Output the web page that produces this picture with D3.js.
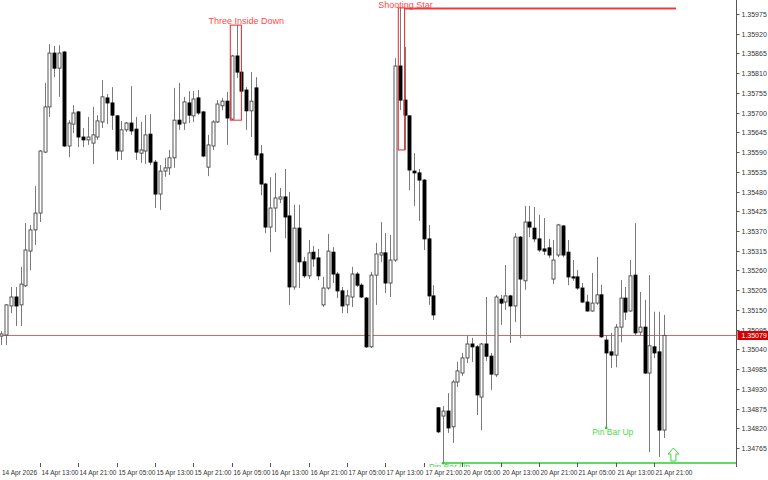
<!DOCTYPE html>
<html><head><meta charset="utf-8">
<script src="https://cdn.jsdelivr.net/npm/d3@7"></script>
<style>html,body{margin:0;padding:0;background:#fff;}svg{display:block;}</style>
</head><body>
<svg id="c" width="768" height="480"></svg>
<script>
// ---- data (H1 bars, 14 Apr 05:00 .. 21 Apr 23:00) ----
const opens = [1.35077,1.35080,1.35161,1.35186,1.35164,1.35217,1.35314,1.35373,1.35420,1.35590,
1.35716,1.35866,1.35824,1.35869,1.35607,1.35668,1.35702,1.35632,1.35624,1.35615,
1.35632,1.35674,1.35741,1.35727,1.35691,1.35593,1.35652,1.35671,1.35654,1.35587,
1.35593,1.35640,1.35562,1.35473,1.35537,1.35546,1.35574,1.35679,1.35671,1.35727,
1.35691,1.35741,1.35702,1.35548,1.35607,1.35674,1.35719,1.35732,1.35682,1.35858,
1.35813,1.35763,1.35705,1.35769,1.35585,1.35501,1.35381,1.35434,1.35459,1.35465,
1.35412,1.35214,1.35378,1.35284,1.35245,1.35311,1.35295,1.35164,1.35211,1.35311,
1.35250,1.35203,1.35164,1.35186,1.35250,1.35219,1.35183,1.35047,1.35247,1.35303,
1.35309,1.35225,1.35289,1.35830,1.35735,1.35691,1.35537,1.35532,1.35512,1.35348,
1.35189,1.34877,1.34854,1.34868,1.34824,1.34949,1.34974,1.35016,1.35055,1.35047,
1.34907,1.35055,1.35021,1.34969,1.35180,1.35172,1.35189,1.35161,1.35353,1.35231,
1.35395,1.35378,1.35348,1.35320,1.35323,1.35236,1.35303,1.35384,1.35311,1.35242,
1.35242,1.35211,1.35172,1.35147,1.35169,1.35192,1.35066,1.35033,1.35024,1.35102,
1.35183,1.35147,1.35247,1.35088,1.35102,1.34974,1.35047,1.35033,1.34815];
const highs = [1.35091,1.35166,1.35214,1.35214,1.35270,1.35392,1.35387,1.35495,1.35596,1.35783,
1.35891,1.35886,1.35888,1.35872,1.35679,1.35721,1.35705,1.35657,1.35688,1.35716,
1.35693,1.35791,1.35752,1.35771,1.35693,1.35677,1.35674,1.35774,1.35688,1.35674,
1.35693,1.35696,1.35568,1.35554,1.35574,1.35596,1.35769,1.35783,1.35744,1.35760,
1.35760,1.35763,1.35705,1.35638,1.35679,1.35735,1.35741,1.35758,1.35861,1.35944,
1.35819,1.35771,1.35813,1.35799,1.35610,1.35504,1.35520,1.35532,1.35490,1.35543,
1.35479,1.35443,1.35443,1.35298,1.35345,1.35328,1.35320,1.35242,1.35362,1.35325,
1.35256,1.35214,1.35206,1.35270,1.35256,1.35225,1.35186,1.35256,1.35337,1.35395,
1.35364,1.35359,1.35852,1.35992,1.35883,1.35693,1.35587,1.35543,1.35515,1.35387,
1.35219,1.34879,1.34882,1.34918,1.34955,1.35005,1.35030,1.35080,1.35072,1.35052,
1.35058,1.35186,1.35030,1.35192,1.35192,1.35275,1.35192,1.35364,1.35356,1.35440,
1.35440,1.35437,1.35415,1.35406,1.35348,1.35345,1.35390,1.35387,1.35345,1.35289,
1.35261,1.35225,1.35192,1.35253,1.35298,1.35220,1.35080,1.35086,1.35111,1.35233,
1.35214,1.35289,1.35392,1.35200,1.35178,1.35247,1.35145,1.35145,1.35136];
const lows = [1.35052,1.35052,1.35141,1.35105,1.35105,1.35214,1.35261,1.35331,1.35395,1.35587,
1.35688,1.35799,1.35744,1.35604,1.35576,1.35643,1.35604,1.35604,1.35610,1.35557,
1.35624,1.35657,1.35668,1.35652,1.35568,1.35568,1.35646,1.35638,1.35568,1.35560,
1.35557,1.35554,1.35434,1.35429,1.35521,1.35526,1.35546,1.35652,1.35652,1.35671,
1.35674,1.35693,1.35576,1.35523,1.35596,1.35671,1.35707,1.35610,1.35679,1.35797,
1.35755,1.35652,1.35632,1.35568,1.35470,1.35364,1.35311,1.35367,1.35448,1.35350,
1.35164,1.35206,1.35211,1.35239,1.35236,1.35270,1.35233,1.35158,1.35206,1.35225,
1.35183,1.35141,1.35141,1.35158,1.35214,1.35183,1.35044,1.35044,1.35164,1.35284,
1.35197,1.35186,1.35284,1.35707,1.35596,1.35484,1.35440,1.35398,1.35317,1.35164,
1.35122,1.34807,1.34723,1.34807,1.34779,1.34935,1.34966,1.35002,1.35005,1.34857,
1.34815,1.35008,1.34927,1.34963,1.35108,1.35150,1.35058,1.35116,1.35072,1.35206,
1.35353,1.35339,1.35311,1.35303,1.35295,1.35222,1.35297,1.35297,1.35219,1.35231,
1.35206,1.35169,1.35145,1.35145,1.35164,1.35072,1.34821,1.34988,1.34990,1.35060,
1.35122,1.35144,1.35080,1.35080,1.34971,1.34754,1.35016,1.34740,1.34793];
const closes = [1.35083,1.35164,1.35186,1.35161,1.35222,1.35317,1.35373,1.35420,1.35593,1.35716,
1.35866,1.35824,1.35866,1.35607,1.35671,1.35699,1.35632,1.35624,1.35632,1.35638,
1.35677,1.35744,1.35727,1.35693,1.35593,1.35652,1.35671,1.35649,1.35590,1.35596,
1.35638,1.35562,1.35473,1.35537,1.35546,1.35574,1.35679,1.35668,1.35730,1.35693,
1.35738,1.35699,1.35579,1.35610,1.35674,1.35724,1.35732,1.35685,1.35858,1.35813,
1.35760,1.35705,1.35732,1.35582,1.35501,1.35381,1.35434,1.35462,1.35465,1.35409,
1.35214,1.35378,1.35284,1.35245,1.35309,1.35292,1.35245,1.35211,1.35314,1.35250,
1.35203,1.35161,1.35189,1.35250,1.35219,1.35186,1.35047,1.35247,1.35306,1.35309,
1.35225,1.35289,1.35830,1.35735,1.35693,1.35540,1.35532,1.35512,1.35348,1.35189,
1.35136,1.34810,1.34868,1.34821,1.34949,1.34980,1.35016,1.35055,1.35047,1.34913,
1.35055,1.35021,1.34971,1.35186,1.35169,1.35189,1.35161,1.35353,1.35236,1.35395,
1.35381,1.35348,1.35317,1.35314,1.35303,1.35289,1.35387,1.35303,1.35242,1.35239,
1.35211,1.35172,1.35147,1.35169,1.35192,1.35075,1.35030,1.35024,1.35102,1.35183,
1.35144,1.35245,1.35086,1.35102,1.34974,1.35050,1.35030,1.34815,1.35079];

const timeLabels = ["14 Apr 2026","14 Apr 13:00","14 Apr 21:00","15 Apr 05:00","15 Apr 13:00","15 Apr 21:00",
"16 Apr 05:00","16 Apr 13:00","16 Apr 21:00","17 Apr 05:00","17 Apr 13:00","17 Apr 21:00",
"20 Apr 05:00","20 Apr 13:00","20 Apr 21:00","21 Apr 05:00","21 Apr 13:00","21 Apr 21:00"];
const timeLabelBars = [0,8,16,24,32,40,48,56,64,72,80,88,96,104,112,120,128,136];
const priceTicks = [1.34765,1.34820,1.34875,1.34930,1.34985,1.35040,1.35095,1.35150,1.35205,1.35260,
1.35315,1.35370,1.35425,1.35480,1.35535,1.35590,1.35645,1.35700,1.35755,1.35810,1.35865,1.35920,1.35975];
const currentPrice = 1.35079;

// patterns (bar indices / prices)
const threeInsideDown = {label:"Three Inside Down", from:48, to:50, hi:1.35944, lo:1.35679};
const shootingStar = {label:"Shooting Star", from:83, to:84, hi:1.35992, lo:1.35596};
const supportLevel = {from:92, price:1.34723};
const pinBars = [{label:"Pin Bar Up", bar:92, price:1.34723},{label:"Pin Bar Up", bar:126, price:1.34821}];
const arrowUp = {bar:140, price:1.34723};

// ---- drawing ----
const svg = d3.select("#c");
const N = opens.length;
const x = d3.scaleLinear().domain([0, 138]).range([1.4, 663.8]);
const y = d3.scaleLinear().domain([1.34765, 1.35975]).range([448, 14]);
const axisX = 736.5;
const FONT = "'Liberation Sans', Arial, sans-serif";

svg.append("defs").append("clipPath").attr("id","plot").append("rect").attr("x",0).attr("y",0).attr("width",axisX).attr("height",467);
const plot = svg.append("g").attr("clip-path","url(#plot)");

const bars = d3.range(N).map(i => ({i, o:opens[i], h:highs[i], l:lows[i], c:closes[i]}));

// current price line
plot.append("line").attr("x1",0).attr("x2",axisX).attr("y1",Math.round(y(currentPrice))+0.5).attr("y2",Math.round(y(currentPrice))+0.5)
  .attr("stroke","#e06666").attr("stroke-width",1);

const g = plot.append("g");
// wicks
g.selectAll("line.w").data(bars).join("line").attr("class","w")
  .attr("x1",d=>Math.round(x(d.i))+0.5).attr("x2",d=>Math.round(x(d.i))+0.5)
  .attr("y1",d=>y(d.h)).attr("y2",d=>y(d.l))
  .attr("stroke","#7a7a7a").attr("stroke-width",1);
// bodies
g.selectAll("rect.b").data(bars).join("rect").attr("class","b")
  .attr("x",d=>Math.round(x(d.i))-1)
  .attr("width",3)
  .attr("y",d=>y(Math.max(d.o,d.c)))
  .attr("height",d=>Math.max(1, Math.abs(y(d.o)-y(d.c))))
  .attr("fill",d=>d.c>=d.o?"#fff":"#000")
  .attr("stroke",d=>d.c>=d.o?"#444":"#000")
  .attr("stroke-width",0.9);

// price axis
svg.append("line").attr("x1",axisX).attr("x2",axisX).attr("y1",0).attr("y2",467).attr("stroke","#555").attr("stroke-width",1);
const pa = svg.append("g");
priceTicks.forEach(p=>{
  const yy = Math.round(y(p))+0.5;
  pa.append("line").attr("x1",axisX).attr("x2",axisX+3).attr("y1",yy).attr("y2",yy).attr("stroke","#555");
  pa.append("text").attr("x",axisX+5).attr("y",yy+2.5).attr("font-family",FONT).attr("font-size",7)
    .attr("fill","#333").text(p.toFixed(5));
});
// current price label
const cy = Math.round(y(currentPrice));
svg.append("rect").attr("x",axisX+1).attr("y",cy-4).attr("width",31).attr("height",9).attr("fill","#d40000");
svg.append("text").attr("x",axisX+5).attr("y",cy+3).attr("font-family",FONT).attr("font-size",7).attr("fill","#fff").text(currentPrice.toFixed(5));

// time axis
timeLabelBars.forEach((b,k)=>{
  const xx = Math.round(x(b))+0.5;
  if(k>0) svg.append("line").attr("x1",xx).attr("x2",xx).attr("y1",463).attr("y2",467).attr("stroke","#555");
  svg.append("text").attr("x",k>0?xx+1:2).attr("y",475).attr("font-family",FONT).attr("font-size",6.5)
    .attr("fill","#333").text(timeLabels[k]);
});

// Three Inside Down
const red = "#e8262b";
plot.append("rect").attr("x",x(threeInsideDown.from)-1.5).attr("y",y(threeInsideDown.hi))
  .attr("width",x(threeInsideDown.to)-x(threeInsideDown.from)+1.5)
  .attr("height",y(threeInsideDown.lo)-y(threeInsideDown.hi))
  .attr("fill","none").attr("stroke",red).attr("stroke-width",1);
plot.append("text").attr("x",x(threeInsideDown.to+1)).attr("y",y(threeInsideDown.hi)-1.5)
  .attr("text-anchor","middle").attr("font-family",FONT).attr("font-size",9).attr("fill","#ff4a4a").text(threeInsideDown.label);

// Shooting Star
plot.append("rect").attr("x",x(shootingStar.from)-1.5).attr("y",y(shootingStar.hi))
  .attr("width",x(shootingStar.to)-x(shootingStar.from)+1.5)
  .attr("height",y(shootingStar.lo)-y(shootingStar.hi))
  .attr("fill","none").attr("stroke",red).attr("stroke-width",1);
plot.append("line").attr("x1",x(shootingStar.to)).attr("x2",676).attr("y1",y(shootingStar.hi)+0.5).attr("y2",y(shootingStar.hi)+0.5)
  .attr("stroke","#f03a3a").attr("stroke-width",2);
plot.append("text").attr("x",x(shootingStar.to)+1).attr("y",y(shootingStar.hi))
  .attr("text-anchor","middle").attr("font-family",FONT).attr("font-size",9).attr("fill","#ff4a4a").text(shootingStar.label);

// support line (green)
const green = "#2ecc2e";
plot.append("line").attr("x1",x(supportLevel.from)).attr("x2",axisX).attr("y1",y(supportLevel.price)).attr("y2",y(supportLevel.price))
  .attr("stroke",green).attr("stroke-width",1.5);

// pin bars
pinBars.forEach(pb=>{
  plot.append("circle").attr("cx",x(pb.bar)).attr("cy",y(pb.price)).attr("r",1.4).attr("fill",green);
  plot.append("text").attr("x",x(pb.bar)-14).attr("y",y(pb.price)+7).attr("font-family",FONT).attr("font-size",8.5)
    .attr("fill","#4cd94c").text(pb.label);
});

// up arrow
const ax = x(arrowUp.bar), ay = y(arrowUp.price)-2;
const arrowPts = [[0,-13],[5.5,-7],[2.5,-7],[2.5,0],[-2.5,0],[-2.5,-7],[-5.5,-7]].map(p=>[ax+p[0],ay+p[1]]);
plot.append("polygon").attr("points",arrowPts.map(p=>p.join(",")).join(" ")).attr("fill","#fff").attr("stroke","#3ad63a").attr("stroke-width",1);
</script>
</body></html>
